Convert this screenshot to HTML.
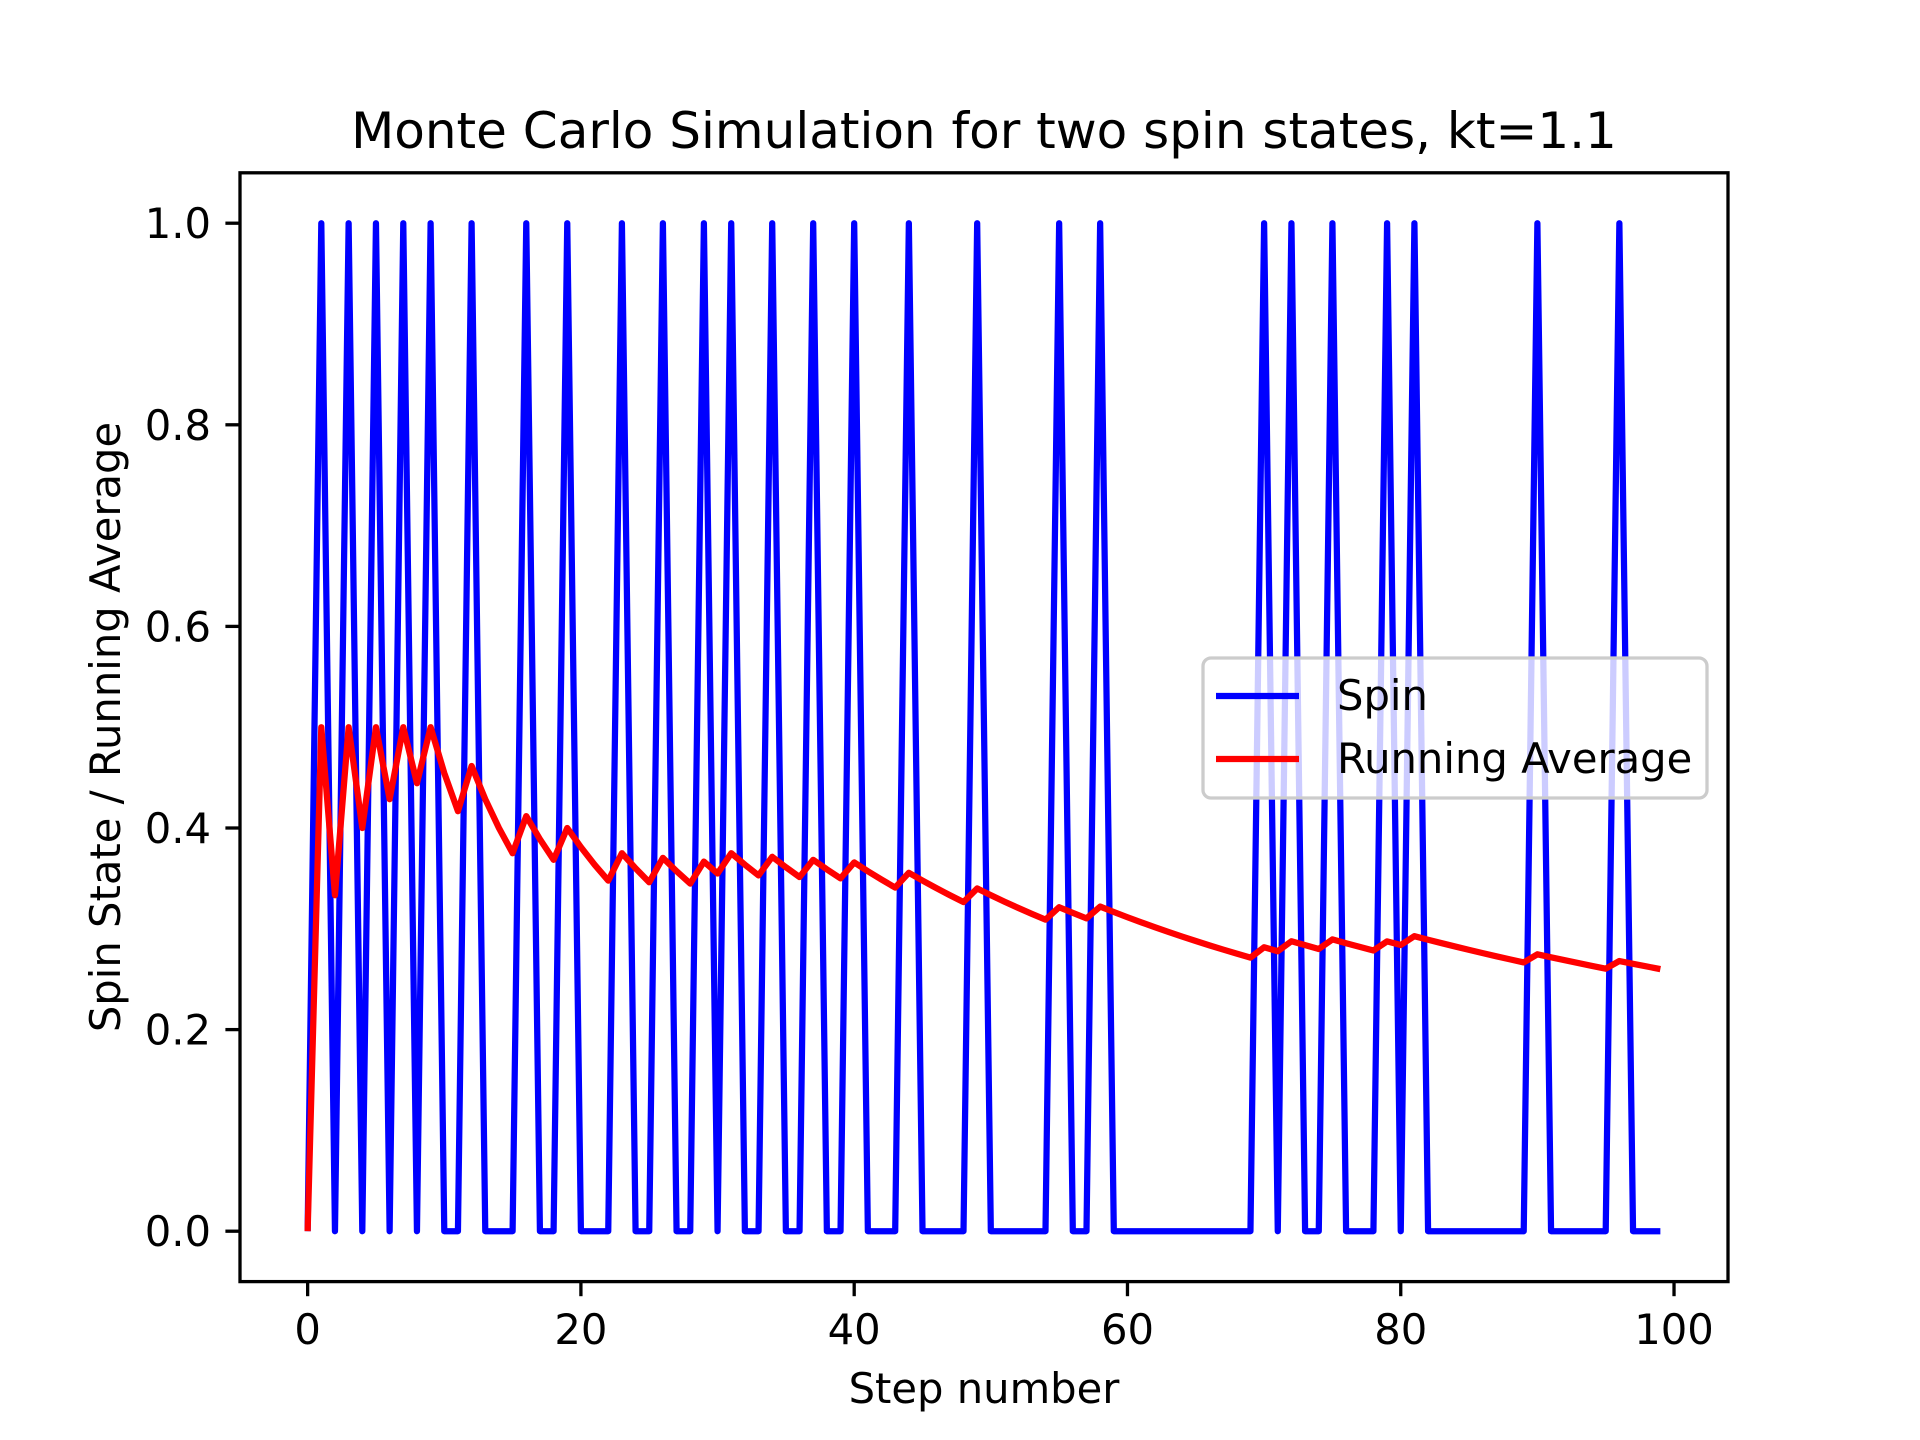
<!DOCTYPE html>
<html><head><meta charset="utf-8"><style>
html,body{margin:0;padding:0;background:#fff;}
svg{display:block;font-family:"DejaVu Sans","Liberation Sans",sans-serif;}
</style></head><body>
<svg id="chart" width="1920" height="1440" viewBox="0 0 1920 1440" xmlns="http://www.w3.org/2000/svg">
<rect x="0" y="0" width="1920" height="1440" fill="#fff"/>
<text x="984" y="148" font-size="50" text-anchor="middle">Monte Carlo Simulation for two spin states, kt=1.1</text>
<g id="plot"></g>
<g id="axes"></g>
<text x="984" y="1403" font-size="41.7" text-anchor="middle">Step number</text>
<text transform="translate(120,727) rotate(-90)" font-size="41.7" text-anchor="middle">Spin State / Running Average</text>
<g>
<rect x="1203" y="658" width="504" height="140" rx="8" fill="#fff" fill-opacity="0.8" stroke="#ccc" stroke-width="3.3"/>
<line x1="1216" y1="696" x2="1299" y2="696" stroke="#0000ff" stroke-width="6.25"/>
<text x="1337" y="710" font-size="41.7">Spin</text>
<line x1="1216" y1="759" x2="1299" y2="759" stroke="#ff0000" stroke-width="6.25"/>
<text x="1337" y="773" font-size="41.7">Running Average</text>
</g>
</svg>
<script>
const spinOnSteps = [1,3,5,7,9,12,16,19,23,26,29,31,34,37,40,44,49,55,58,70,72,75,79,81,90,96];
const nSteps = 100;
const xTicks = [0,20,40,60,80,100];
const yTicks = [0.0,0.2,0.4,0.6,0.8,1.0];
const yTickLabels = ["0.0","0.2","0.4","0.6","0.8","1.0"];

const L=240,R=1728,T=172.8,B=1281.6;
const xmin=-4.95,xmax=103.95,ymin=-0.05,ymax=1.05;
const sx=v=>L+(v-xmin)/(xmax-xmin)*(R-L);
const sy=v=>B-(v-ymin)/(ymax-ymin)*(B-T);
const NS="http://www.w3.org/2000/svg";
const plot=document.getElementById('plot'), axes=document.getElementById('axes');
const spin=[];for(let i=0;i<nSteps;i++)spin.push(spinOnSteps.includes(i)?1:0);
const avg=[];let s=0;for(let i=0;i<nSteps;i++){s+=spin[i];avg.push(s/(i+1));}
function mk(t,a,p){const e=document.createElementNS(NS,t);for(const k in a)e.setAttribute(k,a[k]);(p||plot).appendChild(e);return e;}
const sp=mk('polyline',{points:spin.map((v,i)=>sx(i)+','+sy(v)).join(' '),fill:'none',stroke:'#0000ff','stroke-width':6.25,'stroke-linejoin':'round'});


const av=mk('polyline',{points:avg.map((v,i)=>sx(i)+','+sy(v)).join(' '),fill:'none',stroke:'#ff0000','stroke-width':6.25,'stroke-linejoin':'round'});


const fr=mk('rect',{x:L,y:T,width:R-L,height:B-T,fill:'none',stroke:'#000','stroke-width':3.3},axes);


xTicks.forEach(v=>{
 const t=mk('line',{x1:sx(v),x2:sx(v),y1:B,y2:B+14.6,stroke:'#000','stroke-width':3.3},axes);
 
 
 const l=mk('text',{x:sx(v),y:1344,'font-size':41.7,'text-anchor':'middle'},axes);l.textContent=String(v);
 
 
});
yTicks.forEach((v,i)=>{
 const t=mk('line',{x1:L-14.6,x2:L,y1:sy(v),y2:sy(v),stroke:'#000','stroke-width':3.3},axes);
 
 
 const l=mk('text',{x:211,y:sy(v)+15,'font-size':41.7,'text-anchor':'end'},axes);l.textContent=yTickLabels[i];
 
 
});
</script>
</body></html>
